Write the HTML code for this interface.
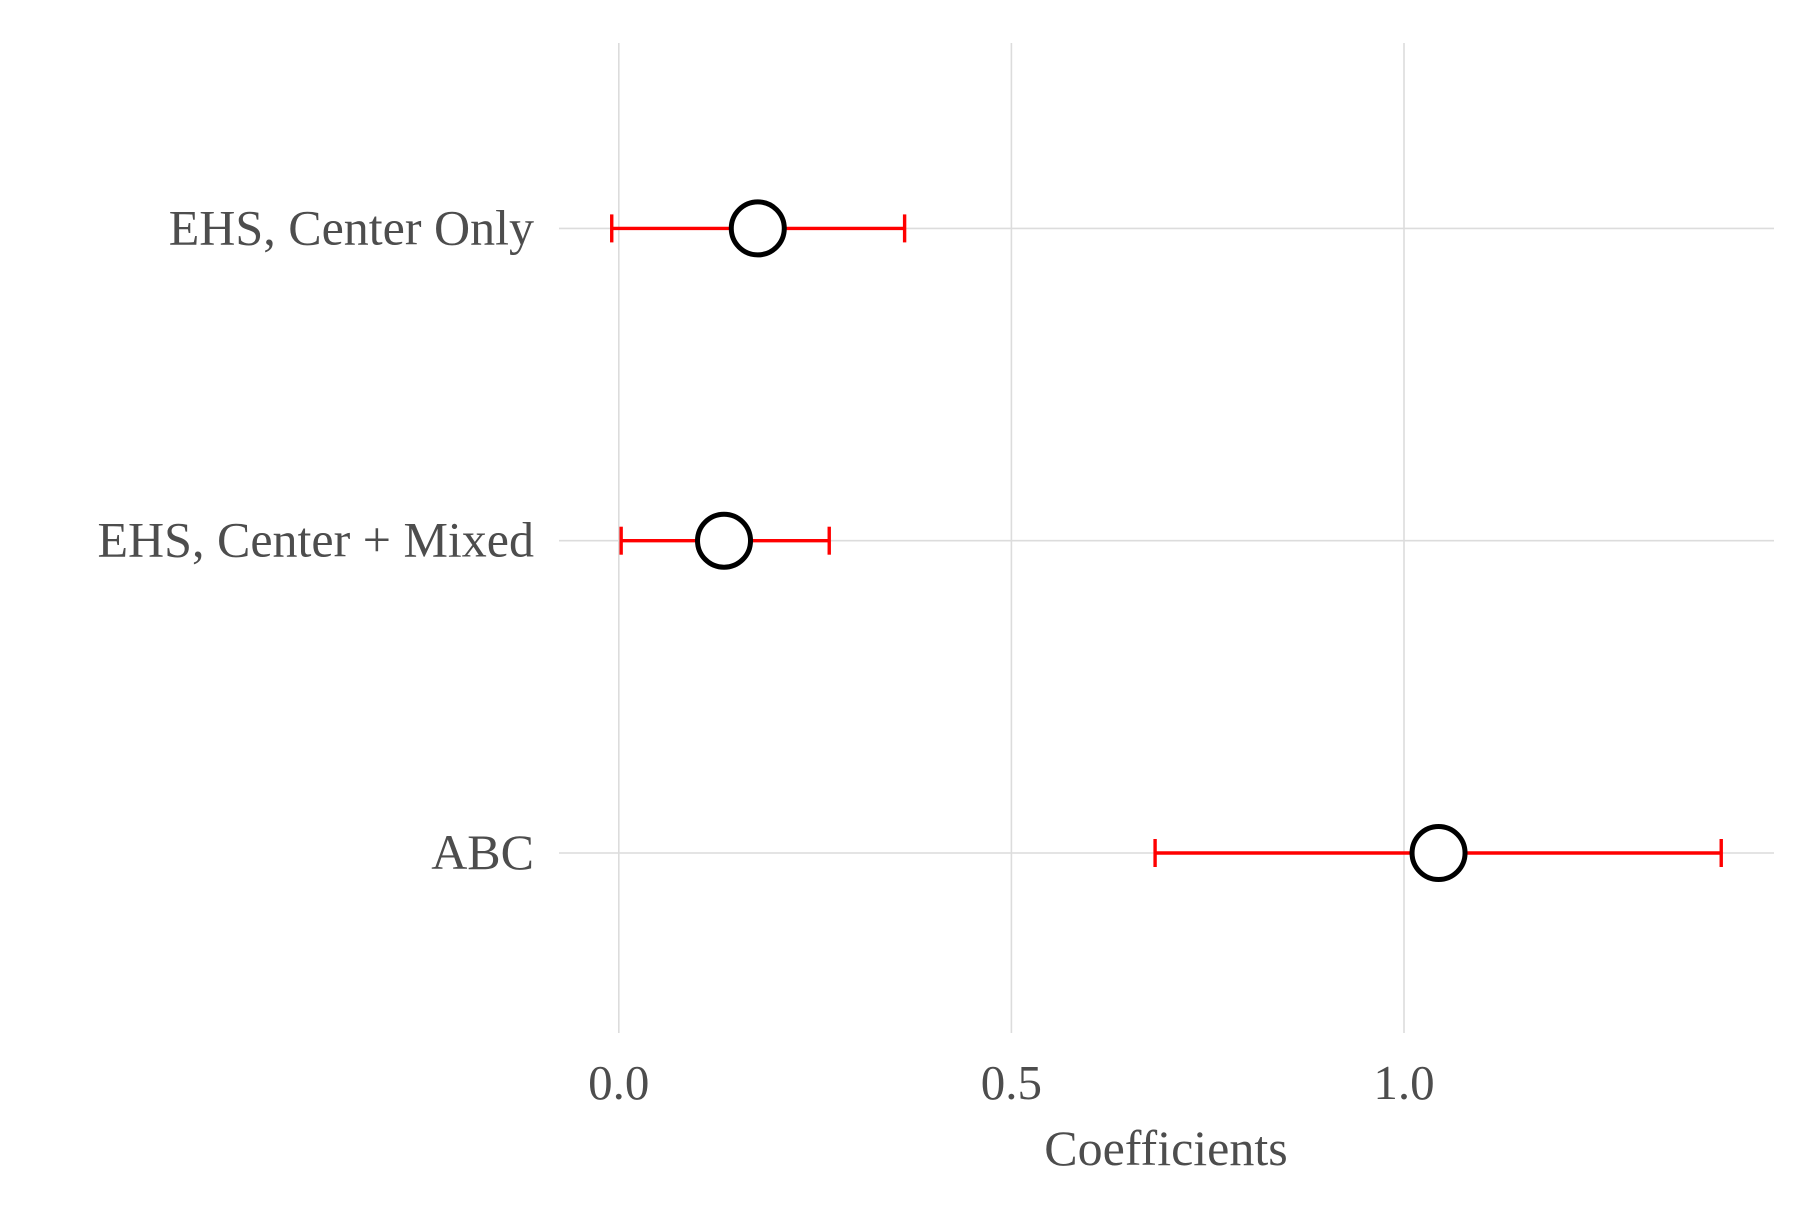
<!DOCTYPE html>
<html><head><meta charset="utf-8"><style>
body{margin:0;background:#fff}
svg text{font-family:"Liberation Serif",serif;fill:#4d4d4d}
</style></head><body>
<svg width="1800" height="1200" viewBox="0 0 1800 1200">
<g id="grid"></g>
<g id="marks"></g>
<text x="1166" y="1165" text-anchor="middle" font-size="50">Coefficients</text>
</svg>
<script>
const categories = ["EHS, Center Only", "EHS, Center + Mixed", "ABC"];
const estimates = [0.177, 0.134, 1.044];
const lowers = [-0.009, 0.003, 0.683];
const uppers = [0.364, 0.268, 1.404];
const xTicks = [0, 0.5, 1.0];
const xTickLabels = ["0.0", "0.5", "1.0"];

const NS = "http://www.w3.org/2000/svg";
const X = v => 618.8 + v * 785.2;
const Y = i => 228.4 + i * 312.3;
const plotLeft = 559, plotRight = 1774, plotTop = 43, plotBottom = 1033;
const gridG = document.getElementById('grid'), marksG = document.getElementById('marks');
function mk(tag, attrs, parent) { const e = document.createElementNS(NS, tag); for (const k in attrs) e.setAttribute(k, attrs[k]); parent.appendChild(e); return e; }

xTicks.forEach((t, i) => {
  const l = mk('line', {x1: X(t), x2: X(t), y1: plotTop, y2: plotBottom, stroke: '#dcdcdc', 'stroke-width': 1.6}, gridG);
  
  
  const tx = mk('text', {x: X(t), y: 1099, 'text-anchor': 'middle', 'font-size': 49}, gridG);
  tx.textContent = xTickLabels[i];
  
  
});
categories.forEach((c, i) => {
  const l = mk('line', {x1: plotLeft, x2: plotRight, y1: Y(i), y2: Y(i), stroke: '#dcdcdc', 'stroke-width': 1.6}, gridG);
  
  
  const tx = mk('text', {x: 534, y: Y(i) + 16, 'text-anchor': 'end', 'font-size': 50}, gridG);
  tx.textContent = c;
  
  
});
categories.forEach((c, i) => {
  const y = Y(i);
  const g = mk('g', {}, marksG);
  
  
  mk('line', {x1: X(lowers[i]), x2: X(uppers[i]), y1: y, y2: y, stroke: '#ff0000', 'stroke-width': 3.4}, g);
  mk('line', {x1: X(lowers[i]), x2: X(lowers[i]), y1: y - 14, y2: y + 14, stroke: '#ff0000', 'stroke-width': 3.4}, g);
  mk('line', {x1: X(uppers[i]), x2: X(uppers[i]), y1: y - 14, y2: y + 14, stroke: '#ff0000', 'stroke-width': 3.4}, g);
  const p = mk('circle', {cx: X(estimates[i]), cy: y, r: 26.5, fill: '#fff', stroke: '#000', 'stroke-width': 5}, marksG);
  
  
});
</script>
</body></html>
